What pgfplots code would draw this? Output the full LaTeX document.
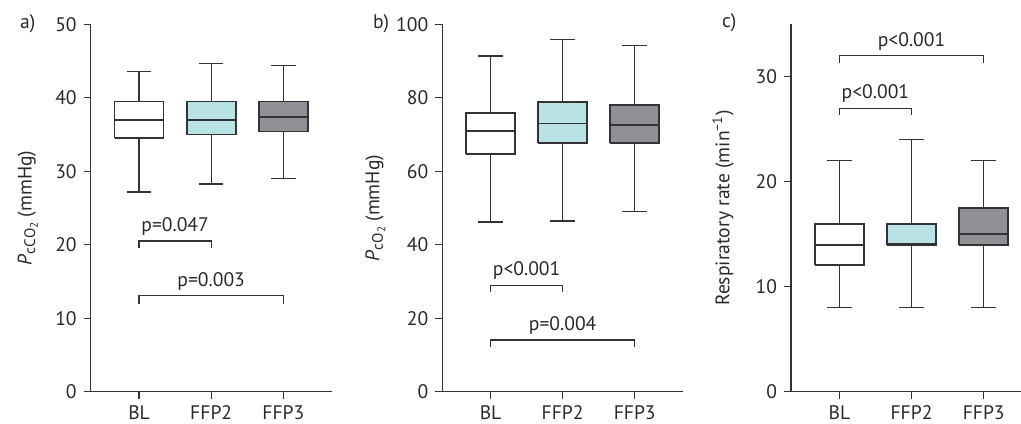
\documentclass[border=0pt]{standalone}
\usepackage{fontspec}
\setmainfont{PT Sans}
\usepackage{pgfplots}
\pgfplotsset{compat=1.18}

\definecolor{ink}{HTML}{333333}
\definecolor{ffptwo}{HTML}{B8E2E4}
\definecolor{ffpthree}{HTML}{8F9196}
\newcommand{\fnt}{\fontsize{9.8}{11}\selectfont}
% subscript gas label, e.g. P_cCO2
\newcommand{\gas}[1]{\textit{P}\raisebox{-0.35ex}{\fontsize{7.6}{8}\selectfont c#1\raisebox{-0.35ex}{\fontsize{5.6}{6}\selectfont 2}}}

\tikzset{
  pv/.style={font=\fnt, text=ink!80!black, anchor=south, inner sep=2.5pt},
}
\pgfplotsset{
  panel/.style={
    scale only axis, height=183.7pt,
    anchor=south west, ymin=0, xmin=0.33,
    axis lines=left,
    axis line style={-, ink, line width=0.65pt},
    tick align=outside, major tick length=3.5pt,
    tick style={ink, line width=0.65pt},
    xtick={1,2,3}, xticklabels={BL,FFP2,FFP3},
    /pgf/number format/assume math mode=true,
    tick label style={font=\fnt, text=ink!80!black},
    label style={font=\fnt, text=ink!80!black},
    clip=false,
  },
  bx/.style={draw=ink, line width=0.85pt, line join=miter, mark=none},
  wk/.style={draw=ink, line width=0.7pt, mark=none},
  br/.style={ink, line width=0.6pt, mark=none},
}

% box and whiskers from five numbers:
% #1 position, #2 lower whisker, #3 lower quartile, #4 median,
% #5 upper quartile, #6 upper whisker, #7 fill colour
\newcommand{\bw}[7]{%
  \pgfmathsetmacro\xl{#1-0.34}\pgfmathsetmacro\xr{#1+0.34}%
  \pgfmathsetmacro\cl{#1-0.17}\pgfmathsetmacro\cr{#1+0.17}%
  \addplot[wk] coordinates {(#1,#3) (#1,#2)};
  \addplot[wk] coordinates {(\cl,#2) (\cr,#2)};
  \addplot[wk] coordinates {(#1,#5) (#1,#6)};
  \addplot[wk] coordinates {(\cl,#6) (\cr,#6)};
  \addplot[bx, fill=#7] coordinates {(\xl,#3) (\xr,#3) (\xr,#5) (\xl,#5) (\xl,#3)};
  \addplot[bx] coordinates {(\xl,#4) (\xr,#4)};
}

\begin{document}
\begin{tikzpicture}
\useasboundingbox (0,0) rectangle (510.5pt,211.5pt);

% a) PcCO2
\begin{axis}[panel, at={(45.35pt,15.65pt)}, width=120.5pt, xmax=3.67,
  ymax=50, ytick={0,10,20,30,40,50},
  ylabel={\gas{CO} (mmHg)},
  ylabel style={at={(axis description cs:-0.261,0.5)}, anchor=center}]
\bw{1}{27.2}{34.5}{37.0}{39.5}{43.6}{white}
\bw{2}{28.25}{35.0}{37.0}{39.5}{44.7}{ffptwo}
\bw{3}{29.0}{35.4}{37.4}{39.5}{44.4}{ffpthree}
\addplot[br] coordinates {(1,19.5) (1,20.5) (2,20.5) (2,19.5)};
\addplot[br] coordinates {(1,12.0) (1,13.05) (3,13.05) (3,12.0)};
\node[pv] at (axis cs:1.5,20.5) {p=0.047};
\node[pv] at (axis cs:2,13.05) {p=0.003};
\end{axis}

% b) PcO2
\begin{axis}[panel, at={(221.15pt,15.65pt)}, width=120.35pt, xmax=3.67,
  ymax=100, ytick={0,20,40,60,80,100},
  ylabel={\gas{O} (mmHg)},
  ylabel style={at={(axis description cs:-0.278,0.5)}, anchor=center}]
\bw{1}{46.2}{64.7}{71.0}{75.8}{91.4}{white}
\bw{2}{46.5}{67.6}{73.0}{78.9}{95.9}{ffptwo}
\bw{3}{49.0}{67.6}{72.6}{78.0}{94.3}{ffpthree}
\addplot[br] coordinates {(1,27.2) (1,29.0) (2,29.0) (2,27.2)};
\addplot[br] coordinates {(1,12.25) (1,14.07) (3,14.07) (3,12.25)};
\node[pv] at (axis cs:1.5,29.0) {p<0.001};
\node[pv] at (axis cs:2,14.07) {p=0.004};
\end{axis}

% c) respiratory rate
\begin{axis}[panel, at={(395.5pt,15.65pt)}, width=115pt, xmax=3.517,
  ymax=35, ytick={0,10,20,30},
  ylabel={Respiratory rate (min\textsuperscript{\char"2212 1})},
  ylabel style={at={(axis description cs:-0.296,0.5)}, anchor=center}]
\bw{1}{8}{12.1}{14.0}{16.0}{22.0}{white}
\bw{2}{8}{14.0}{14.1}{16.0}{24.0}{ffptwo}
\bw{3}{8}{14.0}{15.0}{17.5}{22.0}{ffpthree}
\addplot[br] coordinates {(1,26.4) (1,27.0) (2,27.0) (2,26.4)};
\addplot[br] coordinates {(1,31.35) (1,32.0) (3,32.0) (3,31.35)};
\node[pv] at (axis cs:1.5,27.0) {p<0.001};
\node[pv] at (axis cs:2,32.0) {p<0.001};
\end{axis}

\node[font=\fnt, text=ink!80!black, anchor=west] at (6.5pt,199.5pt) {a)};
\node[font=\fnt, text=ink!80!black, anchor=west] at (183pt,199.5pt) {b)};
\node[font=\fnt, text=ink!80!black, anchor=west] at (357.5pt,200pt) {c)};
\end{tikzpicture}
\end{document}
